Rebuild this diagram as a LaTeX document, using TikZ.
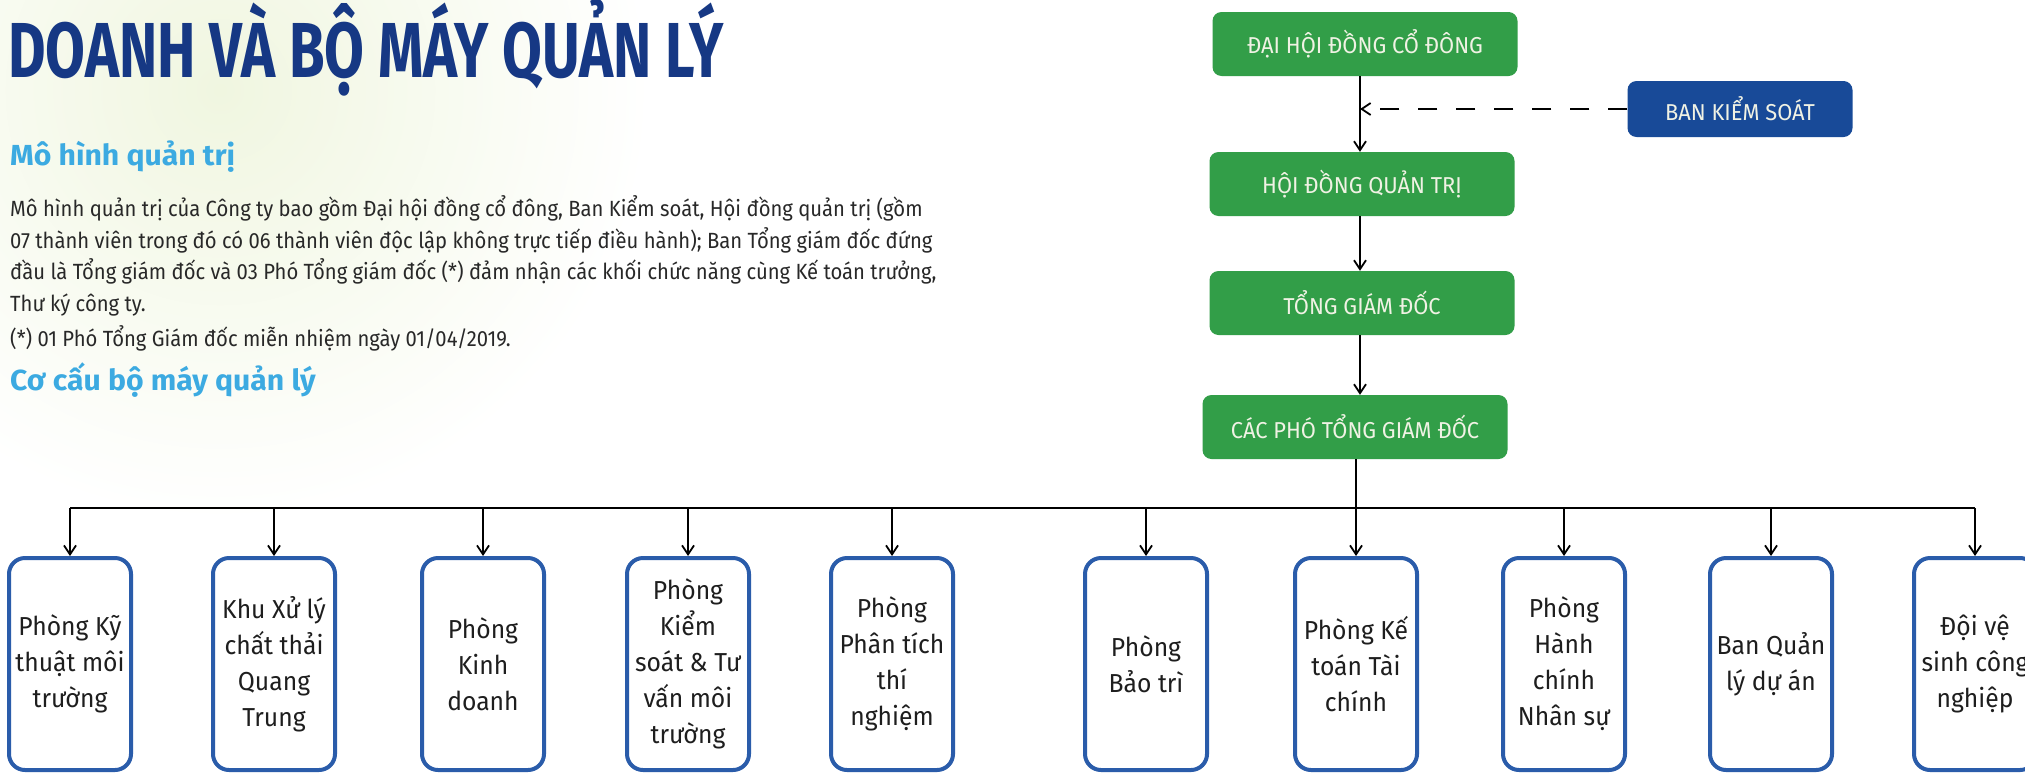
\documentclass[tikz,border=0pt]{standalone}
\usepackage{fontspec}
\setmainfont{Fira Sans}
\newfontfamily\titlefont{Fira Sans}[FakeStretch=0.74]
\newfontfamily\headfont{Fira Sans}[FakeStretch=1.04]
\newfontfamily\bodyfont{Fira Sans}[FakeStretch=0.92]
\newfontfamily\capsfont{Fira Sans}[FakeStretch=0.95]
\newfontfamily\deptfont{Fira Sans}[FakeStretch=0.95]
\usetikzlibrary{arrows.meta}
\definecolor{ggreen}{RGB}{50,158,72}
\definecolor{gtext}{RGB}{240,242,228}
\definecolor{kblue}{RGB}{24,74,152}
\definecolor{dblue}{RGB}{42,92,170}
\definecolor{dtext}{RGB}{30,30,30}
\definecolor{tblue}{RGB}{22,56,132}
\definecolor{hblue}{RGB}{60,170,225}
\definecolor{btext}{RGB}{40,40,40}
\definecolor{glow}{RGB}{240,246,224}
\begin{document}
\begin{tikzpicture}[x=1pt,y=-1pt,
  gbox/.style={fill=ggreen, rounded corners=9pt, minimum width=305pt, minimum height=64pt, inner sep=0pt, text=gtext, font=\capsfont\fontsize{23}{26}\selectfont},
  bbox/.style={gbox, fill=kblue, minimum width=225pt, minimum height=56pt},
  dept/.style={draw=dblue, line width=4pt, rounded corners=16pt, minimum width=122pt, minimum height=212pt, inner sep=0pt, align=center, text=dtext, font=\deptfont\fontsize{26}{36}\selectfont, anchor=north},
  arr/.style={line width=1.8pt, -{Straight Barb[length=9pt,width=12pt,line width=1.8pt]}},
  conn/.style={line width=1.8pt},
  dashedarr/.style={arr, dash pattern=on 19pt off 19pt},
  bodytext/.style={anchor=base west, inner sep=0pt, text=btext, font=\bodyfont\fontsize{22}{31.7}\selectfont},
  headtext/.style={anchor=base west, inner sep=0pt, text=hblue, font=\headfont\bfseries\fontsize{29}{32}\selectfont}
]
\useasboundingbox (0,0) rectangle (2025,774);
\fill[white] (0,0) rectangle (2025,774);
\shade[inner color=glow, outer color=white] (220,90) circle (430);

% texts
\node[anchor=base west, inner sep=0pt, text=tblue, font=\titlefont\bfseries\fontsize{78}{80}\selectfont] (title) at (8,77) {DOANH VÀ BỘ MÁY QUẢN LÝ};
\node[headtext] (h1) at (10,165) {Mô hình quản trị};
\node[bodytext] (l1) at (10,216) {Mô hình quản trị của Công ty bao gồm Đại hội đồng cổ đông, Ban Kiểm soát, Hội đồng quản trị (gồm};
\node[bodytext] (l2) at (10,248) {07 thành viên trong đó có 06 thành viên độc lập không trực tiếp điều hành); Ban Tổng giám đốc đứng};
\node[bodytext] (l3) at (10,279) {đầu là Tổng giám đốc và 03 Phó Tổng giám đốc (*) đảm nhận các khối chức năng cùng Kế toán trưởng,};
\node[bodytext] (l4) at (10,311) {Thư ký công ty.};
\node[bodytext] (note) at (10,346) {(*) 01 Phó Tổng Giám đốc miễn nhiệm ngày 01/04/2019.};
\node[headtext] (h2) at (10,390) {Cơ cấu bộ máy quản lý};

% top chain
\node[gbox] (dh) at (1365,44) {ĐẠI HỘI ĐỒNG CỔ ĐÔNG};
\node[gbox] (hd) at (1362,184) {HỘI ĐỒNG QUẢN TRỊ};
\node[gbox] (tgd) at (1362,303) {TỔNG GIÁM ĐỐC};
\node[gbox] (pgd) at (1355,427) {CÁC PHÓ TỔNG GIÁM ĐỐC};
\node[bbox] (bks) at (1740,109) {BAN KIỂM SOÁT};

\coordinate (cx) at (1360,0);
\draw[arr] (dh.south -| cx) -- (hd.north -| cx);
\draw[arr] (hd.south -| cx) -- (tgd.north -| cx);
\draw[arr] (tgd.south -| cx) -- (pgd.north -| cx);
\draw[dashedarr] (bks.west) -- (bks.west -| cx);

% departments
\foreach \n/\x/\t in {
  d1/70/{Phòng Kỹ\\thuật môi\\trường},
  d2/274/{Khu Xử lý\\chất thải\\Quang\\Trung},
  d3/483/{Phòng\\Kinh\\doanh},
  d4/688/{Phòng\\Kiểm\\soát \& Tư\\vấn môi\\trường},
  d5/892/{Phòng\\Phân tích\\thí\\nghiệm},
  d6/1146/{Phòng\\Bảo trì},
  d7/1356/{Phòng Kế\\toán Tài\\chính},
  d8/1564/{Phòng\\Hành\\chính\\Nhân sự},
  d9/1771/{Ban Quản\\lý dự án},
  d10/1975/{Đội vệ\\sinh công\\nghiệp}}
  {\node[dept] (\n) at (\x,556) {\t};}

\coordinate (bL) at (70,508);
\coordinate (bR) at (1975,508);
\draw[conn] (bL) -- (bR);
\draw[arr] (pgd.south -| d7.north) -- (d7.north);
\foreach \n in {d1,d2,d3,d4,d5,d6,d8,d9,d10}
  {\draw[arr] (\n.north |- bL) -- (\n.north);}
\end{tikzpicture}
\end{document}
